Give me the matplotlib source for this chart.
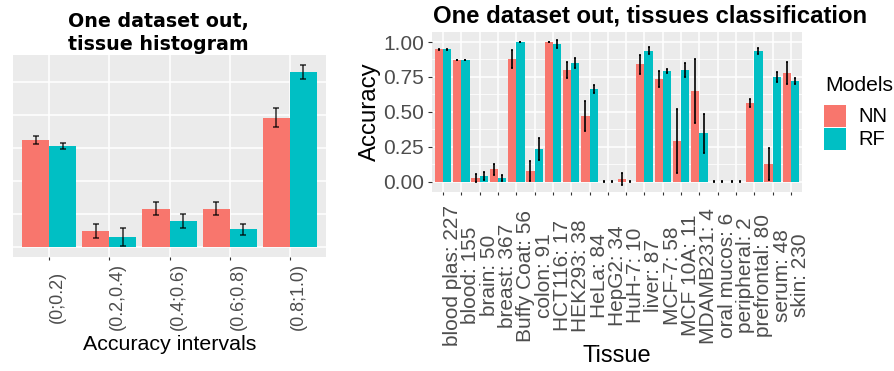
import matplotlib
matplotlib.use("Agg")
import matplotlib.pyplot as plt
from matplotlib.patches import Rectangle
from matplotlib.ticker import MultipleLocator
import numpy as np

plt.rcParams["font.family"] = ["Liberation Sans", "DejaVu Sans"]

W, H = 894, 371
NN_COL = "#F8766D"
RF_COL = "#00BFC4"
PANEL = "#EBEBEB"
TXT = "#4D4D4D"

# left panel: number of tissues per accuracy interval
intervals = ["(0;0.2)", "(0.2,0.4)", "(0.4;0.6)", "(0.6;0.8)", "(0.8;1.0)"]
hist_nn = [6.5, 1.0, 2.35, 2.35, 7.85]
hist_nn_err = [0.26, 0.44, 0.39, 0.39, 0.60]
hist_rf = [6.15, 0.65, 1.6, 1.1, 10.6]
hist_rf_err = [0.17, 0.53, 0.45, 0.33, 0.44]

# right panel: accuracy per tissue
tissues = ["blood plas: 227", "blood: 155", "brain: 50", "breast: 367",
           "Buffy Coat: 56", "colon: 91", "HCT116: 17", "HEK293: 38",
           "HeLa: 84", "HepG2: 34", "HuH-7: 10", "liver: 87", "MCF-7: 58",
           "MCF 10A: 11", "MDAMB231: 4", "oral mucos: 6", "peripheral: 2",
           "prefrontal: 80", "serum: 48", "skin: 230"]
acc_nn = [0.947, 0.871, 0.026, 0.09, 0.878, 0.076, 1.0, 0.80, 0.47, 0.0,
          0.019, 0.842, 0.735, 0.291, 0.649, 0.0, 0.0, 0.563, 0.126, 0.778]
err_nn = [0.003, 0.003, 0.026, 0.04, 0.063, 0.07, 0.002, 0.06, 0.11, 0.003,
          0.045, 0.068, 0.054, 0.23, 0.227, 0.003, 0.003, 0.03, 0.113, 0.076]
acc_rf = [0.947, 0.871, 0.04, 0.026, 1.0, 0.234, 0.986, 0.85, 0.663, 0.0,
          0.0, 0.936, 0.792, 0.80, 0.348, 0.0, 0.0, 0.936, 0.749, 0.721]
err_rf = [0.003, 0.003, 0.03, 0.02, 0.002, 0.076, 0.03, 0.033, 0.03, 0.003,
          0.003, 0.025, 0.012, 0.05, 0.14, 0.003, 0.003, 0.02, 0.035, 0.02]

models = ["NN", "RF"]
model_cols = [NN_COL, RF_COL]


def px_rect(l, t, r, b):
    return [l / W, 1 - b / H, (r - l) / W, (b - t) / H]


def style_axes(ax):
    ax.set_facecolor(PANEL)
    for s in ax.spines.values():
        s.set_visible(False)
    ax.set_axisbelow(True)


fig = plt.figure(figsize=(W / 100, H / 100), dpi=100)

# ---- left: histogram ----
ax1 = fig.add_axes(px_rect(13, 55, 326, 257))
style_axes(ax1)
x1 = np.arange(len(intervals))
bw = 0.45
ax1.bar(x1 - bw / 2, hist_nn, bw, color=NN_COL)
ax1.bar(x1 + bw / 2, hist_rf, bw, color=RF_COL)
ax1.errorbar(x1 - bw / 2, hist_nn, yerr=hist_nn_err, fmt="none", ecolor="black",
             alpha=0.8, elinewidth=1.1, capsize=2.2, capthick=1.1)
ax1.errorbar(x1 + bw / 2, hist_rf, yerr=hist_rf_err, fmt="none", ecolor="black",
             alpha=0.8, elinewidth=1.1, capsize=2.2, capthick=1.1)
ax1.set_xlim(-0.6, len(intervals) - 0.4)
ax1.set_ylim(-0.574, 11.63)
ax1.yaxis.set_major_locator(MultipleLocator(2))
ax1.grid(True, color="white", lw=1.1)
ax1.set_xticks(x1)
ax1.set_xticklabels(intervals)
ax1.tick_params(axis="y", length=0, labelleft=False)
ax1.tick_params(axis="x", length=2.2, width=0.8, color="#333333", pad=26.5,
                labelsize=13, labelcolor=TXT)
plt.setp(ax1.get_xticklabels(), rotation=90, ha="left", va="center")

fig.text(158 / W, 1 - 27 / H, "One dataset out,", family="DejaVu Sans",
         weight="bold", fontsize=13.7, ha="center", va="baseline")
fig.text(158 / W, 1 - 50 / H, "tissue histogram", family="DejaVu Sans",
         weight="bold", fontsize=13.7, ha="center", va="baseline")
fig.text(170 / W, 1 - 345 / H, "Accuracy intervals", fontsize=15.4,
         ha="center", va="center")

# ---- right: per tissue accuracy ----
ax2 = fig.add_axes(px_rect(432, 32, 802, 192))
style_axes(ax2)
x2 = np.arange(len(tissues))
ax2.bar(x2 - bw / 2, acc_nn, bw, color=NN_COL)
ax2.bar(x2 + bw / 2, acc_rf, bw, color=RF_COL)
ax2.errorbar(x2 - bw / 2, acc_nn, yerr=err_nn, fmt="none", ecolor="black",
             elinewidth=1.2, capsize=0.8, capthick=1.2)
ax2.errorbar(x2 + bw / 2, acc_rf, yerr=err_rf, fmt="none", ecolor="black",
             elinewidth=1.2, capsize=0.8, capthick=1.2)
ax2.set_xlim(-0.6, len(tissues) - 0.4)
ax2.set_ylim(-0.0737, 1.0716)
ax2.yaxis.set_major_locator(MultipleLocator(0.25))
ax2.yaxis.set_minor_locator(MultipleLocator(0.125))
ax2.yaxis.set_major_formatter(lambda v, p: f"{v:.2f}")
ax2.grid(True, which="major", color="white", lw=1.1)
ax2.grid(True, which="minor", axis="y", color="white", lw=0.55)
ax2.set_xticks(x2)
ax2.set_xticklabels(tissues)
ax2.tick_params(axis="y", which="minor", length=0)
ax2.tick_params(axis="y", which="major", length=2.9, width=0.8, color="#333333",
                pad=3, labelsize=15, labelcolor=TXT)
ax2.tick_params(axis="x", length=2.2, width=0.8, color="#333333", pad=58,
                labelsize=15, labelcolor=TXT)
plt.setp(ax2.get_xticklabels(), rotation=90, ha="left", va="center")

fig.text(433 / W, 1 - 22.5 / H, "One dataset out, tissues classification",
         weight="bold", fontsize=17.2, ha="left", va="baseline")
fig.text(370 / W, 1 - 112 / H, "Accuracy", fontsize=17.3, rotation=90,
         ha="center", va="center")
fig.text(617 / W, 1 - 356 / H, "Tissue", fontsize=17, ha="center", va="center")

# legend, ggplot style
fig.text(825 / W, 1 - 91 / H, "Models", fontsize=15.2, ha="left", va="baseline")
for i, (m, c) in enumerate(zip(models, model_cols)):
    top = 105 + i * 23
    fig.add_artist(Rectangle((824 / W, 1 - (top + 22) / H), 22 / W, 22 / H,
                             transform=fig.transFigure, facecolor=c,
                             edgecolor="none"))
    fig.text(858 / W, 1 - (top + 11.5) / H, m, fontsize=14.5, ha="left",
             va="center")

fig.savefig("out.png", dpi=100)
